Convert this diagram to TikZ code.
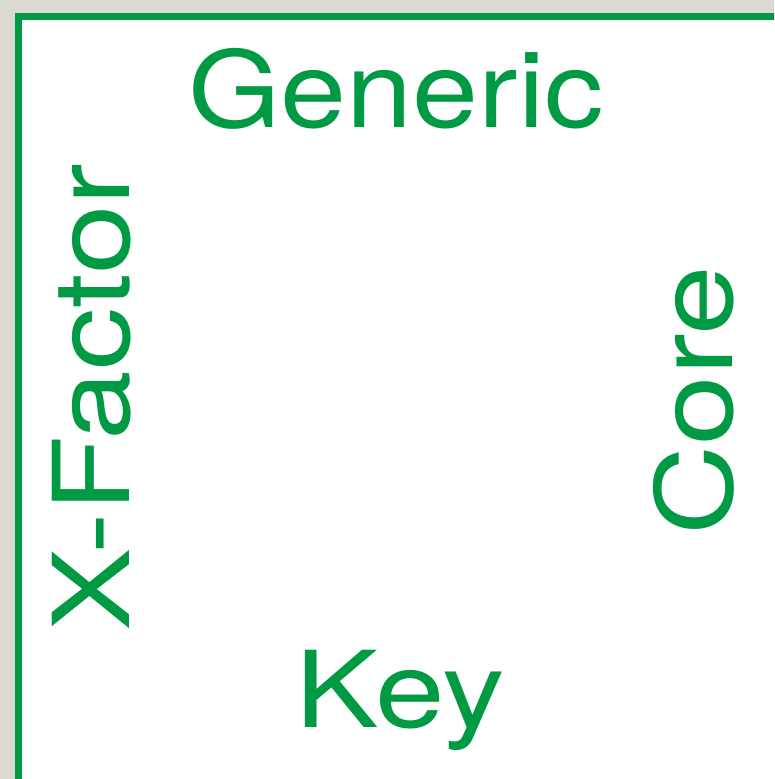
\documentclass[tikz,border=0pt]{standalone}
\usepackage{fontspec}
\setmainfont[FakeStretch=1.12]{TeX Gyre Heros}
\newfontfamily\widefont[FakeStretch=1.18]{TeX Gyre Heros}
\definecolor{grn}{RGB}{0,154,68}
\definecolor{bg}{RGB}{220,217,210}
\begin{document}
\begin{tikzpicture}[x=1pt,y=1pt,
  lbl/.style={text=grn,font=\fontsize{106}{110}\selectfont,inner sep=0pt,anchor=base},
  wlbl/.style={lbl,font=\widefont\fontsize{106}{110}\selectfont}]
\useasboundingbox (0,0) rectangle (774,779);
\clip (0,0) rectangle (774,779);
\fill[bg] (0,0) rectangle (774,779);
\draw[grn,line width=7pt,fill=white] (18.5,762.5) rectangle (820,-40);
\node[lbl] (generic) at (396,651) {Generic};
\node[wlbl] (key) at (400,51) {Key};
\node[wlbl,rotate=90] (xfactor) at (129,381.5) {X-Factor};
\node[wlbl,rotate=90] (core) at (732,378.5) {Core};
\end{tikzpicture}
\end{document}
